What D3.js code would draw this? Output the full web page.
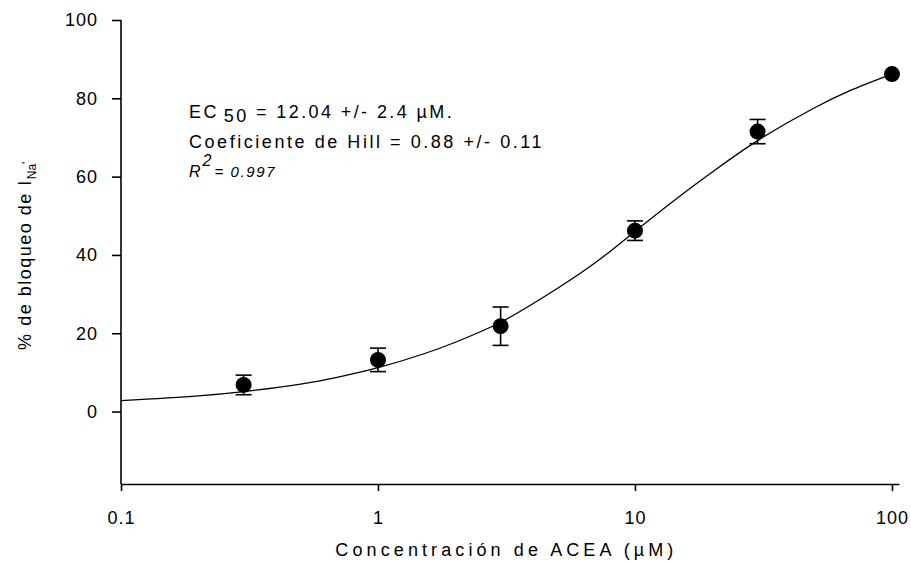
<!DOCTYPE html>
<html>
<head>
<meta charset="utf-8">
<script src="https://cdn.jsdelivr.net/npm/d3@7"></script>
<style>
body { margin: 0; background: #fff; }
text { font-family: "Liberation Sans", Arial, sans-serif; fill: #000; }
</style>
</head>
<body>
<svg id="drawing_region"></svg>
<script>
// measured points (mean +/- error)
const concentrations = [0.3, 1, 3, 10, 30, 100];
const blockMeans = [6.8, 13.2, 21.8, 46.2, 71.5, 86.2];
const blockErrors = [2.5, 3.0, 4.9, 2.5, 3.1, 0];

// fitted Hill curve
const fitX = [0.1, 0.2, 0.3, 0.5, 0.7, 1, 1.5, 2, 3, 5, 7, 10, 14, 20, 30, 50, 70, 100];
const fitY = [2.8, 4.0, 5.1, 7.0, 8.8, 11.2, 14.7, 17.7, 22.8, 31.5, 38.0, 46.0, 53.6, 61.2, 69.2, 77.6, 82.2, 86.2];

const xTicks = [0.1, 1, 10, 100];
const xTickLabels = ['0.1', '1', '10', '100'];
const yTicks = [0, 20, 40, 60, 80, 100];

const config = {
    parent: '#drawing_region',
    width: 911,
    height: 563,
    margin: {top: 20, right: 12, bottom: 79, left: 121},
};

const svg = d3.select(config.parent)
    .attr('width', config.width)
    .attr('height', config.height);

const chart = svg.append('g')
    .attr('transform', `translate(${config.margin.left}, ${config.margin.top})`);

const inner_width = config.width - config.margin.left - config.margin.right;
const inner_height = config.height - config.margin.top - config.margin.bottom;

const xscale = d3.scaleLog()
    .domain([0.1, 106.5])
    .range([0, inner_width]);

const yscale = d3.scaleLinear()
    .domain([-18.5, 100])
    .range([inner_height, 0]);

// axes
const xaxis = d3.axisBottom(xscale)
    .tickValues(xTicks)
    .tickFormat((d, i) => xTickLabels[i])
    .tickSize(7)
    .tickPadding(20)
    .tickSizeOuter(0);

const yaxis = d3.axisLeft(yscale)
    .tickValues(yTicks)
    .tickSize(9)
    .tickPadding(14)
    .tickSizeOuter(0);

const xaxis_group = chart.append('g')
    .attr('transform', `translate(0, ${inner_height})`)
    .call(xaxis);

const yaxis_group = chart.append('g')
    .call(yaxis);

// y axis line only from the 100 tick down to the x axis
yaxis_group.select('.domain')
    .attr('d', `M0,${yscale(100)}V${inner_height}`);

[xaxis_group, yaxis_group].forEach(g => {
    g.selectAll('path, line').attr('stroke', '#000').attr('stroke-width', 1.6);
    g.selectAll('text')
        .attr('fill', '#000')
        .style('font-size', '18px')
        .style('letter-spacing', '1px')
        .style('font-family', '"Liberation Sans", Arial, sans-serif');
});

// fit curve
const points = fitX.map((x, i) => ({x: x, y: fitY[i]}));
const line = d3.line()
    .x(d => xscale(d.x))
    .y(d => yscale(d.y))
    .curve(d3.curveCatmullRom.alpha(0.5));

chart.append('path')
    .attr('d', line(points))
    .attr('stroke', '#000')
    .attr('stroke-width', 1.3)
    .attr('fill', 'none');

// error bars
const data = concentrations.map((c, i) => ({x: c, y: blockMeans[i], e: blockErrors[i]}));
const cap = 8;
const bars = chart.selectAll('.errbar')
    .data(data.filter(d => d.e > 0))
    .enter()
    .append('g')
    .attr('class', 'errbar')
    .attr('stroke', '#000')
    .attr('stroke-width', 1.6);

bars.append('line')
    .attr('x1', d => xscale(d.x)).attr('x2', d => xscale(d.x))
    .attr('y1', d => yscale(d.y + d.e)).attr('y2', d => yscale(d.y - d.e));
bars.append('line')
    .attr('x1', d => xscale(d.x) - cap).attr('x2', d => xscale(d.x) + cap)
    .attr('y1', d => yscale(d.y + d.e)).attr('y2', d => yscale(d.y + d.e));
bars.append('line')
    .attr('x1', d => xscale(d.x) - cap).attr('x2', d => xscale(d.x) + cap)
    .attr('y1', d => yscale(d.y - d.e)).attr('y2', d => yscale(d.y - d.e));

// points
chart.selectAll('circle')
    .data(data)
    .enter()
    .append('circle')
    .attr('cx', d => xscale(d.x))
    .attr('cy', d => yscale(d.y))
    .attr('r', 8)
    .attr('fill', '#000');

// axis titles
svg.append('text')
    .attr('x', config.margin.left + xscale(3.16))
    .attr('y', 556)
    .attr('text-anchor', 'middle')
    .style('font-size', '18px')
    .style('letter-spacing', '4.1px')
    .text('Concentración de ACEA (µM)');

const ylabel = svg.append('text')
    .attr('transform', 'translate(31, 255) rotate(-90)')
    .attr('text-anchor', 'middle')
    .style('font-size', '18px')
    .style('letter-spacing', '1.5px');
ylabel.append('tspan').text('% de bloqueo de I');
ylabel.append('tspan').attr('dy', 5).style('font-size', '12px').style('letter-spacing', '0px').text('Na');
ylabel.append('tspan').attr('dy', -5).style('font-size', '12px').text("'");

// fit parameters
const ann = svg.append('g')
    .style('font-size', '18px');

const t1 = ann.append('text').attr('x', 189).attr('y', 118).style('letter-spacing', '2.4px');
t1.append('tspan').text('EC');
t1.append('tspan').attr('dx', 5).attr('dy', 4).text('50');
t1.append('tspan').attr('dy', -4).text(' = 12.04 +/- 2.4 µM.');

ann.append('text').attr('x', 189).attr('y', 148)
    .style('letter-spacing', '2.55px')
    .text('Coeficiente de Hill = 0.88 +/- 0.11');

const t3 = ann.append('text').attr('x', 189).attr('y', 177)
    .style('font-style', 'italic');
t3.append('tspan').style('font-size', '16px').text('R');
t3.append('tspan').attr('dx', 2).attr('dy', -11).style('font-size', '16px').text('2');
t3.append('tspan').attr('dx', 3).attr('dy', 11).style('font-size', '15px').style('letter-spacing', '1.6px').text('= 0.997');
</script>
</body>
</html>
